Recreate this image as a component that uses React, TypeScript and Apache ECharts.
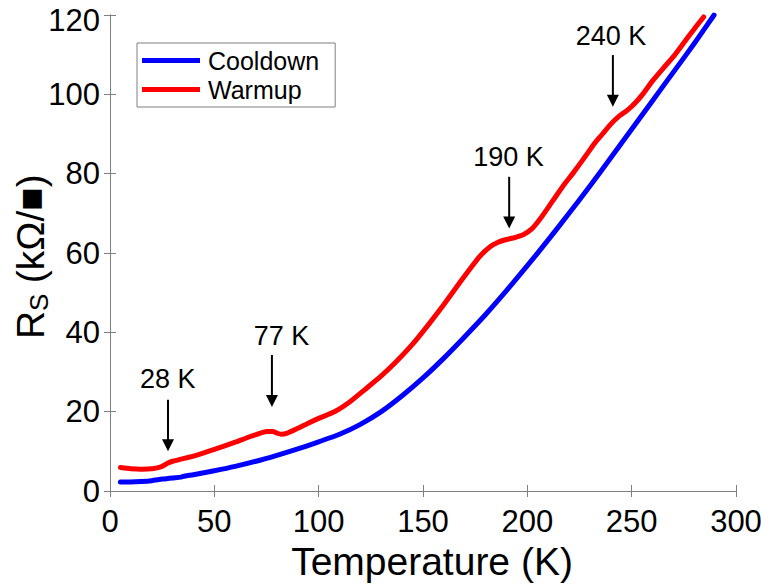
import React, { useEffect, useRef } from 'react';
import * as echarts from 'echarts';

const FONT = "'Liberation Sans', Arial, 'DejaVu Sans', sans-serif";

// Cooldown (blue)
const coolT = [5, 10, 15, 20, 25, 30, 34, 36, 40, 50, 60, 70, 80, 90, 100, 110, 120, 130, 140, 150, 160, 170, 180, 190, 200, 210, 220, 230, 240, 250, 260, 270, 280, 289.5];
const coolR = [2.3, 2.3, 2.4, 2.6, 3.0, 3.3, 3.5, 3.8, 4.1, 5.1, 6.2, 7.5, 9.0, 10.6, 12.4, 14.3, 16.8, 20.0, 24.0, 28.5, 33.5, 38.9, 44.5, 50.5, 56.8, 63.3, 70.0, 76.9, 84.0, 91.2, 98.4, 105.6, 112.8, 120.0];

// Warmup (red)
const warmT = [5, 10, 15, 20, 24, 26, 28, 30, 36, 40, 50, 60, 65, 70, 75, 78, 80, 82, 85, 90, 95, 100, 108, 115, 122, 130, 137, 145, 153, 160, 168, 177, 182, 186, 190, 194, 198, 202, 206, 212, 218, 222, 228, 232, 236, 240, 244, 248, 252, 256, 260, 265, 270, 275, 280, 284.5];
const warmR = [5.9, 5.6, 5.5, 5.6, 6.0, 6.5, 7.1, 7.5, 8.3, 8.8, 10.5, 12.3, 13.3, 14.2, 15.0, 15.0, 14.6, 14.3, 14.6, 15.8, 17.1, 18.3, 20.1, 22.5, 25.5, 29.0, 32.5, 37.0, 42.2, 47.0, 52.8, 59.0, 61.5, 62.7, 63.4, 63.9, 64.6, 66.0, 68.5, 73.0, 77.5, 80.2, 84.5, 87.5, 90.0, 92.5, 94.5, 96.0, 98.0, 100.5, 103.4, 106.5, 109.5, 113.0, 116.5, 119.5];

const seriesNames = ['Cooldown', 'Warmup'];

// Annotations (data coordinates)
const annLabels = ['28 K', '77 K', '190 K', '240 K'];
const annArrowT = [27.8, 77.6, 191.3, 241];
const annArrowFrom = [23.0, 34.3, 79.2, 109.9];
const annArrowTo = [10.0, 21.2, 66.2, 96.9];
const annTextT = [27.7, 82.2, 191, 240.1];
const annTextR = [28.2, 39.1, 84.1, 114.7];

const zip = (a: number[], b: number[]) => a.map((v, i) => [v, b[i]]);

export default function App() {
  const ref = useRef<HTMLDivElement>(null);
  useEffect(() => {
    document.body.style.margin = '0';
    const chart = echarts.init(ref.current!, undefined, { renderer: 'svg' });
    const axisLine = { show: true, lineStyle: { color: '#808080', width: 1 } };
    const tick = { show: true, inside: true, length: 6, lineStyle: { color: '#808080', width: 1 } };
    const label = { color: '#000', fontSize: 31, fontFamily: FONT, lineHeight: 28 };
    chart.setOption({
      animation: false,
      backgroundColor: '#fff',
      grid: { left: 110, right: 25, top: 15, bottom: 95, containLabel: false, outerBoundsMode: 'none' },
      legend: {
        orient: 'vertical',
        left: 137,
        top: 43,
        data: seriesNames,
        icon: 'rect',
        itemWidth: 58,
        itemHeight: 5,
        itemGap: 4,
        padding: [5, 16, 5, 5],
        borderColor: '#808080',
        borderWidth: 1,
        backgroundColor: '#fff',
        textStyle: { fontSize: 25, fontFamily: FONT, color: '#000', padding: [0, 0, 0, 3] },
      },
      xAxis: [
        {
          type: 'value', min: 0, max: 300, interval: 50,
          axisLine, axisTick: tick, splitLine: { show: false },
          axisLabel: { ...label, margin: 16 },
        },
        {
          type: 'value', position: 'top', min: 0, max: 300, interval: 50,
          axisLine, axisTick: tick, splitLine: { show: false }, axisLabel: { show: false },
        },
      ],
      yAxis: [
        {
          type: 'value', min: 0, max: 120, interval: 20,
          axisLine, axisTick: tick, splitLine: { show: false },
          axisLabel: {
            ...label, margin: 10,
            formatter: (v: number) => (v === 120 ? `{top|${v}}` : `${v}`),
            rich: { top: { fontSize: 31, fontFamily: FONT, color: '#000', lineHeight: 18, padding: [10, 0, 0, 0] } },
          },
        },
        {
          type: 'value', position: 'right', min: 0, max: 120, interval: 20,
          axisLine, axisTick: tick, splitLine: { show: false }, axisLabel: { show: false },
        },
      ],
      series: [
        {
          name: seriesNames[0], type: 'line', data: zip(coolT, coolR), showSymbol: false, smooth: 0.2,
          color: '#0000ff', lineStyle: { width: 5, color: '#0000ff', cap: 'round', join: 'round' },
        },
        {
          name: seriesNames[1], type: 'line', data: zip(warmT, warmR), showSymbol: false, smooth: 0.2,
          color: '#ff0000', lineStyle: { width: 5, color: '#ff0000', cap: 'round', join: 'round' },
        },
      ],
    });

    const elements: any[] = [];
    annLabels.forEach((txt, i) => {
      const [tx, ty] = chart.convertToPixel({ gridIndex: 0 }, [annTextT[i], annTextR[i]]) as number[];
      const [ax, ay0] = chart.convertToPixel({ gridIndex: 0 }, [annArrowT[i], annArrowFrom[i]]) as number[];
      const [, ay1] = chart.convertToPixel({ gridIndex: 0 }, [annArrowT[i], annArrowTo[i]]) as number[];
      elements.push({
        type: 'text', x: tx, y: ty, z: 10,
        style: { text: txt, fill: '#000', fontSize: 27, fontFamily: FONT, align: 'center', verticalAlign: 'middle', textAlign: 'center', textVerticalAlign: 'middle' },
      });
      elements.push({
        type: 'line', z: 10,
        shape: { x1: ax, y1: ay0, x2: ax, y2: ay1 - 10 },
        style: { stroke: '#000', lineWidth: 2 },
      });
      elements.push({
        type: 'polygon', z: 10,
        shape: { points: [[ax - 6, ay1 - 12], [ax + 6, ay1 - 12], [ax, ay1]] },
        style: { fill: '#000' },
      });
    });

    // x-axis title
    elements.push({
      type: 'text', x: 432, y: 561,
      style: { text: 'Temperature (K)', fill: '#000', fontSize: 39, fontFamily: FONT, align: 'center', verticalAlign: 'middle', textAlign: 'center', textVerticalAlign: 'middle' },
    });
    // y-axis title with subscript
    elements.push({
      type: 'group', x: 30, y: 339, rotation: Math.PI / 2,
      children: [
        { type: 'text', x: 0, y: 0, style: { text: 'R', fill: '#000', fontSize: 39, fontFamily: FONT, align: 'left', verticalAlign: 'middle', textAlign: 'left', textVerticalAlign: 'middle' } },
        { type: 'text', x: 28, y: 9, style: { text: 'S', fill: '#000', fontSize: 26, fontFamily: FONT, align: 'left', verticalAlign: 'middle', textAlign: 'left', textVerticalAlign: 'middle' } },
        { type: 'text', x: 45, y: 0, style: { text: ' (kΩ/■)', fill: '#000', fontSize: 39, fontFamily: FONT, align: 'left', verticalAlign: 'middle', textAlign: 'left', textVerticalAlign: 'middle' } },
      ],
    });

    chart.setOption({ graphic: { elements } });
    return () => chart.dispose();
  }, []);
  return <div ref={ref} style={{ width: 761, height: 586 }} />;
}
